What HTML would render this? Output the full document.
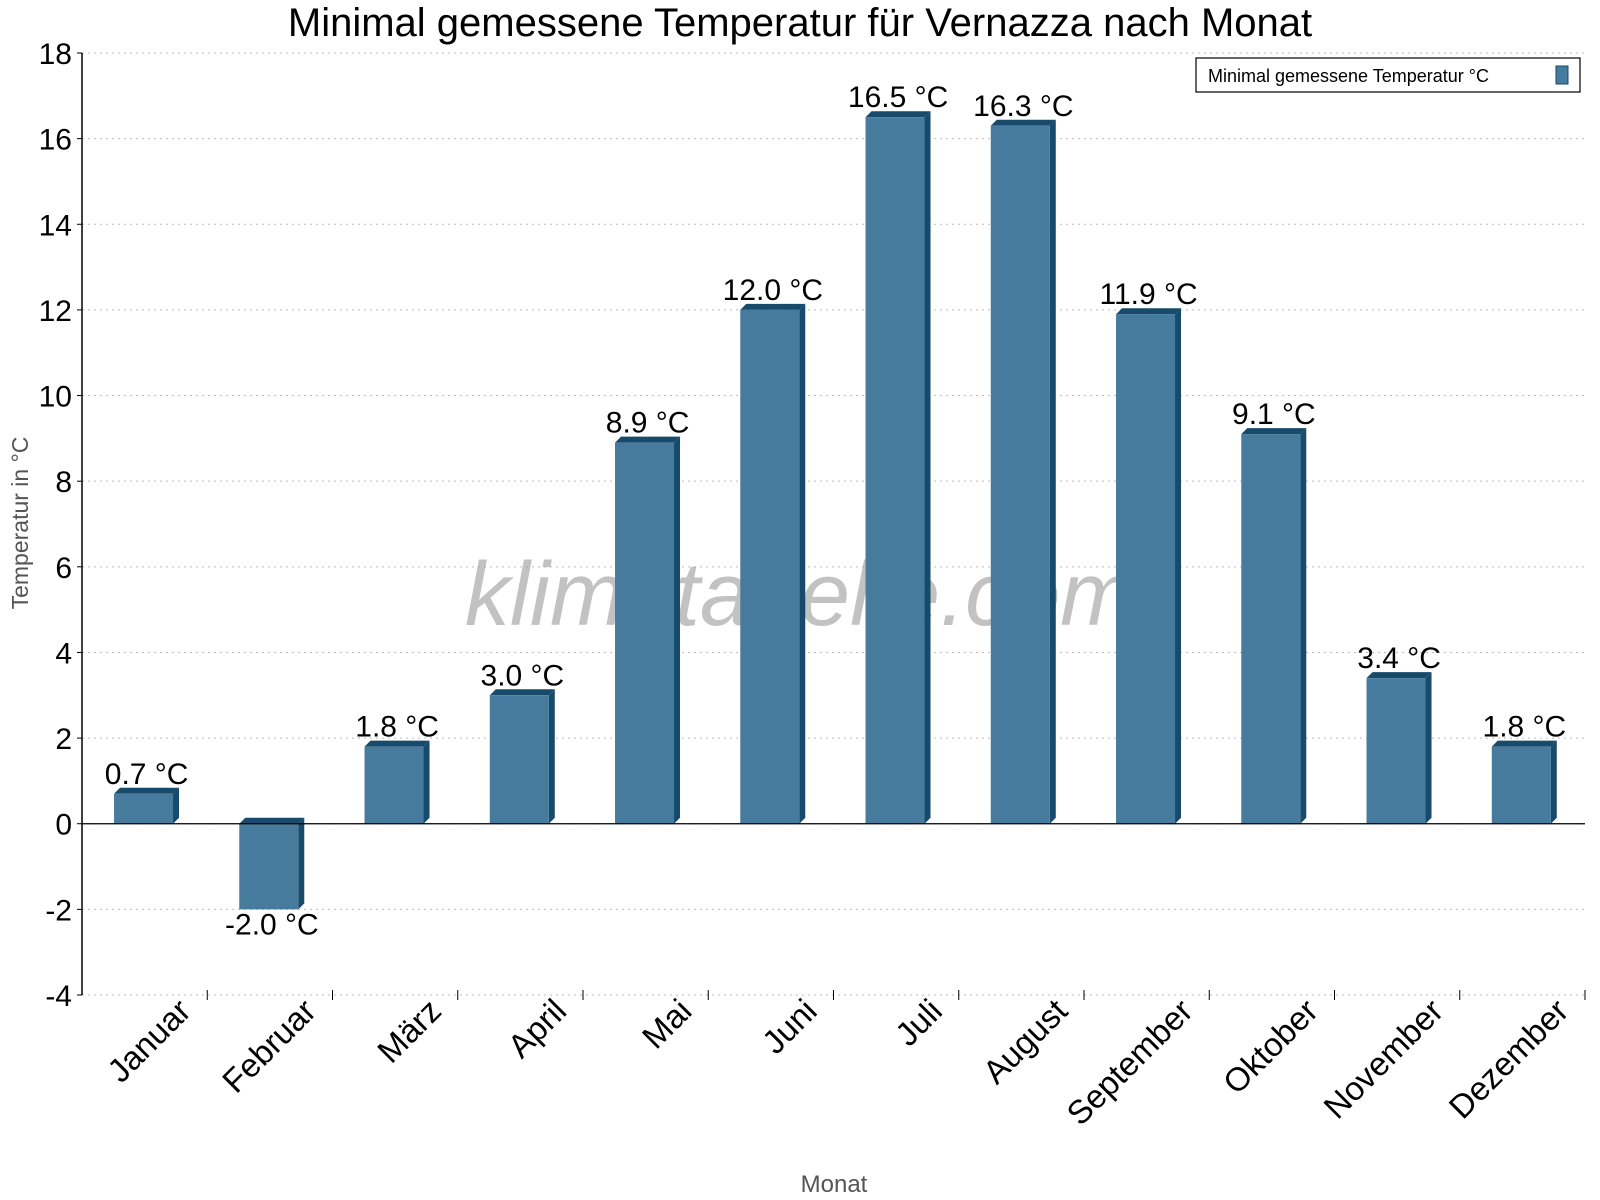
<!DOCTYPE html>
<html><head><meta charset="utf-8"><style>
body{margin:0;background:#fff;}
svg{display:block;font-family:"Liberation Sans",sans-serif;}
</style></head><body>
<svg id="chart" width="1600" height="1200">
<text x="800" y="36" font-size="40" text-anchor="middle">Minimal gemessene Temperatur für Vernazza nach Monat</text>
<g id="grid"></g>
<text x="800" y="625" font-size="90" font-style="italic" fill="#999" fill-opacity="0.6" text-anchor="middle">klimatabelle.com</text>
<g id="bars"></g>
<g id="axes"></g>
<text transform="translate(28,523) rotate(-90)" font-size="23" fill="#555" text-anchor="middle">Temperatur in °C</text>
<text x="834" y="1192" font-size="24" fill="#555" text-anchor="middle">Monat</text>
<g>
<rect x="1196" y="58" width="384" height="34" fill="#fff" stroke="#000" stroke-width="1.2"/>
<text x="1208" y="82" font-size="18">Minimal gemessene Temperatur °C</text>
<rect x="1556" y="66" width="12" height="18" fill="#467b9d" stroke="#174a6b"/>
</g>
</svg>
<script>
const categories=["Januar","Februar","März","April","Mai","Juni","Juli","August","September","Oktober","November","Dezember"];
const values=[0.7,-2.0,1.8,3.0,8.9,12.0,16.5,16.3,11.9,9.1,3.4,1.8];
const yTicks=[-4,-2,0,2,4,6,8,10,12,14,16,18];
const NS="http://www.w3.org/2000/svg";
const L=82,R=1585,T=53,B=995,yMin=-4,yMax=18;
const slot=(R-L)/categories.length;
function y(v){return T+(yMax-v)/(yMax-yMin)*(B-T);}
function xc(i){return L+slot*(i+0.5);}
function mk(tag,attrs,parent){const e=document.createElementNS(NS,tag);for(const k in attrs)e.setAttribute(k,attrs[k]);parent.appendChild(e);return e;}
const grid=document.getElementById('grid'),bars=document.getElementById('bars'),axes=document.getElementById('axes');
yTicks.forEach(t=>{
 const g=mk('line',{x1:L,x2:R,y1:y(t),y2:y(t),stroke:'#bbb','stroke-dasharray':'2,4'},grid);
 
 
 const tk=mk('line',{x1:L-5,x2:L,y1:y(t),y2:y(t),stroke:'#000'},axes);
 
 
 const lb=mk('text',{x:L-10,y:y(t)+11,'font-size':30,'text-anchor':'end'},axes);
 lb.textContent=t;
 
 
});
const ax=mk('line',{x1:L,x2:L,y1:T,y2:B,stroke:'#000','stroke-width':1.5},axes);


const z=mk('line',{x1:L,x2:R,y1:y(0),y2:y(0),stroke:'#000','stroke-width':1.3},axes);


for(let i=1;i<=categories.length;i++){
 const tk=mk('line',{x1:L+slot*i,x2:L+slot*i,y1:B-5,y2:B+5,stroke:'#000'},axes);
 
 
}
const bw=59,d=6;
categories.forEach((c,i)=>{
 const v=values[i];
 const x0=xc(i)-30.6;
 const top=Math.min(y(v),y(0)),bot=Math.max(y(v),y(0));
 const g=mk('g',{},bars);
 
 
 mk('polygon',{points:`${x0},${top} ${x0+d},${top-d} ${x0+bw+d},${top-d} ${x0+bw},${top}`,fill:'#174a6b'},g);
 mk('polygon',{points:`${x0+bw},${top} ${x0+bw+d},${top-d} ${x0+bw+d},${bot-d} ${x0+bw},${bot}`,fill:'#174a6b'},g);
 mk('rect',{x:x0,y:top,width:bw,height:bot-top,fill:'#467b9d'},g);
 const lb=mk('text',{x:xc(i)+2,y:v>=0?top-10:bot+25,'font-size':30,'text-anchor':'middle'},bars);
 lb.textContent=v.toFixed(1)+' °C';
 
 
 const xl=mk('text',{transform:`translate(${xc(i)+48},${B+18}) rotate(-45)`,'font-size':33,'text-anchor':'end'},axes);
 xl.textContent=c;
 
 
});
</script>
</body></html>
